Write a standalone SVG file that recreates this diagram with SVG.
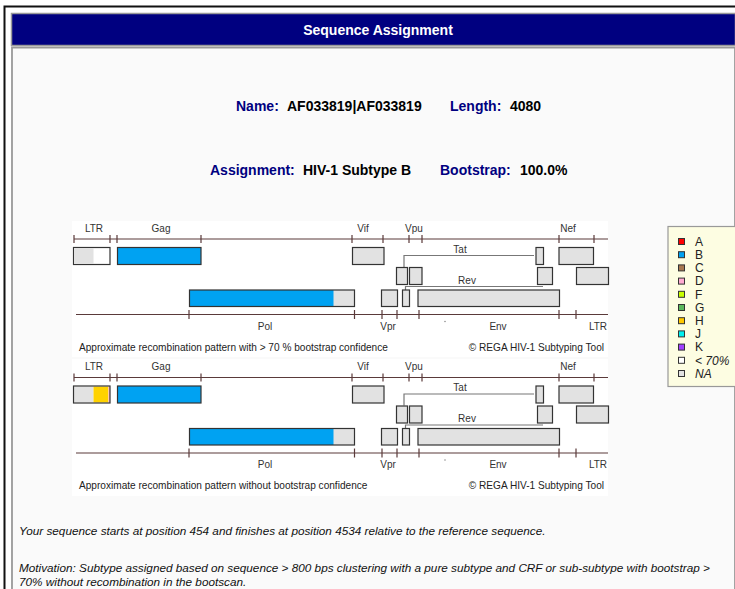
<svg xmlns="http://www.w3.org/2000/svg" width="735" height="589" viewBox="0 0 735 589">
<style>
.hd{font-family:"Liberation Sans",Arial,sans-serif;font-weight:bold;font-size:14px}
.lb{fill:#000080}
.vl{fill:#000}
.ml{font-family:"Liberation Sans",Arial,sans-serif;font-size:10px;fill:#333}
.cp{font-family:"Liberation Sans",Arial,sans-serif;font-size:10.1px;fill:#222}
.ax{stroke:#5a3a3a;stroke-width:1.2;fill:none}
.bx{stroke:#333;stroke-width:1.2;fill:#e2e2e2}
.bl{fill:#00a2f2}
.cn{stroke:#777;stroke-width:1.2;fill:none}
.lg{font-family:"Liberation Sans",Arial,sans-serif;font-size:12px;fill:#222}
.sw{stroke:#333;stroke-width:1}
.ft{font-family:"Liberation Sans",Arial,sans-serif;font-size:11.75px;font-style:italic;fill:#111}
</style>
<defs>
<g id="genome">
<path class="ax" d="M74 239H608M74 235V243M110 235V243M117 235V243M201 235V243M352 235V243M383 235V243M409 235V243M422 235V243M559 235V243M594 235V243"/>
<text class="ml" x="94" y="231.5" text-anchor="middle">LTR</text>
<text class="ml" x="161" y="231.5" text-anchor="middle">Gag</text>
<text class="ml" x="363" y="231.5" text-anchor="middle">Vif</text>
<text class="ml" x="414" y="231.5" text-anchor="middle">Vpu</text>
<text class="ml" x="568" y="231.5" text-anchor="middle">Nef</text>
<rect class="bx bl" x="117.5" y="247.5" width="83.5" height="17"/>
<rect class="bx" x="352.5" y="247.5" width="31.5" height="17"/>
<rect class="bx" x="536" y="247.5" width="7.5" height="17"/>
<rect class="bx" x="559" y="247.5" width="34.5" height="17"/>
<path class="cn" d="M404 267V255.5H534"/>
<text class="ml" x="460" y="252.5" text-anchor="middle">Tat</text>
<rect class="bx" x="396.5" y="267.5" width="11" height="17"/>
<rect class="bx" x="409.5" y="267.5" width="12.5" height="17"/>
<rect class="bx" x="537.5" y="267.5" width="15" height="17"/>
<rect class="bx" x="576.5" y="267.5" width="32" height="17"/>
<path class="cn" d="M405.5 290V286.5H543"/>
<text class="ml" x="467" y="283.5" text-anchor="middle">Rev</text>
<rect x="189.5" y="290" width="165" height="16.5" fill="#e2e2e2"/>
<rect class="bl" x="189.5" y="290" width="144" height="16.5"/>
<rect x="189.5" y="290" width="165" height="16.5" fill="none" stroke="#333" stroke-width="1.2"/>
<rect class="bx" x="381.5" y="290" width="16" height="16.5"/>
<rect class="bx" x="402.5" y="290" width="7" height="16.5"/>
<rect class="bx" x="418" y="290" width="141.5" height="16.5"/>
<path class="ax" d="M76 314.5H608M189 310V319M354.5 310V319M382 310V319M397 310V319M419 310V319M559 310V319M576 310V319"/>
<text class="ml" x="265" y="329.5" text-anchor="middle">Pol</text>
<text class="ml" x="388" y="329.5" text-anchor="middle">Vpr</text>
<text class="ml" x="498" y="329.5" text-anchor="middle">Env</text>
<text class="ml" x="598" y="329.5" text-anchor="middle">LTR</text>
<circle cx="445" cy="321.5" r="0.7" fill="#777"/>
<text class="cp" x="604" y="350.5" text-anchor="end">© REGA HIV-1 Subtyping Tool</text>
</g>
</defs>
<rect width="735" height="589" fill="#fff"/>
<path d="M4.5 589V6.5H735" stroke="#111" stroke-width="2" fill="none"/>
<g id="header">
<rect x="11.5" y="13.5" width="724" height="32" fill="#000080" stroke="#999" stroke-width="1.5"/>
<text class="hd" x="378" y="35" text-anchor="middle" fill="#fff">Sequence Assignment</text>
</g>
<g id="panel">
<path d="M12 589V47.5H735V589" fill="#fafafa" stroke="#999" stroke-width="1.8"/>
</g>
<g id="summary">
<text class="hd" x="236" y="111"><tspan class="lb">Name:</tspan><tspan class="vl" x="287">AF033819|AF033819</tspan><tspan class="lb" x="450">Length:</tspan><tspan class="vl" x="510">4080</tspan></text>
<text class="hd" x="210" y="175"><tspan class="lb">Assignment:</tspan><tspan class="vl" x="303">HIV-1 Subtype B</tspan><tspan class="lb" x="440">Bootstrap:</tspan><tspan class="vl" x="520">100.0%</tspan></text>
</g>
<g id="map1">
<rect x="72" y="221" width="536" height="136" fill="#fff"/>
<use href="#genome"/>
<rect x="73.5" y="247.5" width="36.5" height="17" fill="#fff" stroke="#333" stroke-width="1.2"/>
<rect x="74" y="248" width="19.5" height="16" fill="#e2e2e2"/>
<text class="cp" x="79" y="350.5">Approximate recombination pattern with &gt; 70 % bootstrap confidence</text>
</g>
<g id="map2">
<rect x="72" y="359" width="536" height="137" fill="#fff"/>
<use href="#genome" transform="translate(0,138.5)"/>
<rect x="74" y="386.5" width="19.5" height="16" fill="#e2e2e2"/>
<rect x="93.5" y="386.5" width="15" height="16" fill="#ffd200"/>
<rect x="108.5" y="386.5" width="1.5" height="16" fill="#ffb0d0"/>
<rect x="73.5" y="386" width="36.5" height="17" fill="none" stroke="#333" stroke-width="1.2"/>
<text class="cp" x="79" y="489">Approximate recombination pattern without bootstrap confidence</text>
</g>
<g id="legend">
<rect x="668" y="226.5" width="68" height="160" fill="#fdfde2" stroke="#999" stroke-width="1.2"/>
<rect class="sw" x="678.5" y="238.5" width="6" height="6" fill="#ff0000"/>
<rect class="sw" x="678.5" y="251.7" width="6" height="6" fill="#00a2f2"/>
<rect class="sw" x="678.5" y="264.9" width="6" height="6" fill="#a87850"/>
<rect class="sw" x="678.5" y="278.1" width="6" height="6" fill="#ffaad2"/>
<rect class="sw" x="678.5" y="291.3" width="6" height="6" fill="#c8ff00"/>
<rect class="sw" x="678.5" y="304.5" width="6" height="6" fill="#5cb85c"/>
<rect class="sw" x="678.5" y="317.7" width="6" height="6" fill="#ffc800"/>
<rect class="sw" x="678.5" y="330.9" width="6" height="6" fill="#00f0f0"/>
<rect class="sw" x="678.5" y="344.1" width="6" height="6" fill="#a040ff"/>
<rect class="sw" x="678.5" y="357.3" width="6" height="6" fill="#fff"/>
<rect class="sw" x="678.5" y="370.5" width="6" height="6" fill="#e2e2e2"/>
<text class="lg" x="695" y="245.8">A</text>
<text class="lg" x="695" y="259">B</text>
<text class="lg" x="695" y="272.2">C</text>
<text class="lg" x="695" y="285.4">D</text>
<text class="lg" x="695" y="298.6">F</text>
<text class="lg" x="695" y="311.8">G</text>
<text class="lg" x="695" y="325">H</text>
<text class="lg" x="695" y="338.2">J</text>
<text class="lg" x="695" y="351.4">K</text>
<text class="lg" x="695" y="364.6" font-style="italic">&lt; 70%</text>
<text class="lg" x="695" y="377.8" font-style="italic">NA</text>
</g>
<g id="notes">
<text class="ft" x="19" y="535">Your sequence starts at position 454 and finishes at position 4534 relative to the reference sequence.</text>
<text class="ft" x="19" y="572">Motivation: Subtype assigned based on sequence &gt; 800 bps clustering with a pure subtype and CRF or sub-subtype with bootstrap &gt;</text>
<text class="ft" x="19" y="586">70% without recombination in the bootscan.</text>
</g>
</svg>
